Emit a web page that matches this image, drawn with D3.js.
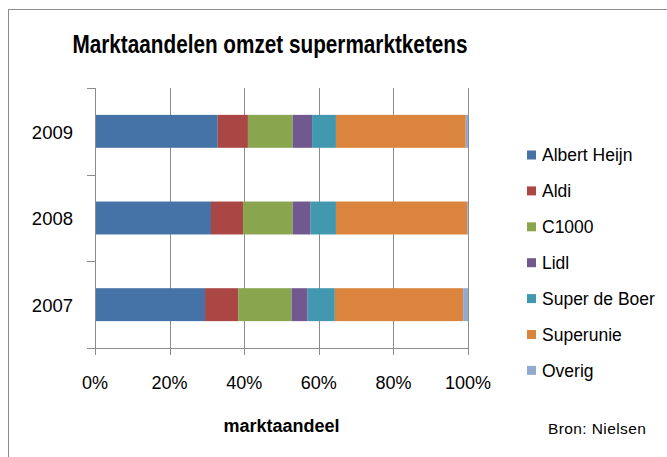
<!DOCTYPE html>
<html>
<head>
<meta charset="utf-8">
<script src="https://cdn.jsdelivr.net/npm/d3@7"></script>
<style>
  html, body { margin: 0; padding: 0; background: #fff; }
  svg { display: block; }
  text { font-family: "Liberation Sans", Arial, sans-serif; fill: #000; }
</style>
</head>
<body>
<svg id="chart" width="667" height="457"></svg>
<script>
// ---- data ----
const years = ["2009", "2008", "2007"];
const chains = ["Albert Heijn", "Aldi", "C1000", "Lidl", "Super de Boer", "Superunie", "Overig"];
const albertHeijn = [32.9, 31.1, 29.5];
const aldi        = [8.1, 8.6, 8.9];
const c1000       = [12.0, 13.3, 14.3];
const lidl        = [5.2, 4.8, 4.3];
const superDeBoer = [6.4, 6.8, 7.3];
const superunie   = [34.8, 35.2, 34.4];
const overig      = [0.6, 0.2, 1.3];
const xTicks = [0, 0.2, 0.4, 0.6, 0.8, 1.0];
const colors = ["#4572A7", "#AA4643", "#89A54E", "#71588F", "#4198AF", "#DB843D", "#93A9CF"];

const seriesValues = [albertHeijn, aldi, c1000, lidl, superDeBoer, superunie, overig];
const table = years.map((yr, i) => {
  const row = { year: yr };
  chains.forEach((c, k) => row[c] = seriesValues[k][i]);
  return row;
});
// normalise to 100% stacked
const stack = d3.stack().keys(chains).offset(d3.stackOffsetExpand)(table);

const svg = d3.select("#chart");

// outer frame
svg.append("rect").attr("x", 8.5).attr("y", 9.5).attr("width", 700).attr("height", 500)
  .attr("fill", "none").attr("stroke", "#8c8c8c").attr("stroke-width", 1);

const pLeft = 95, pRight = 468, pTop = 88, pBottom = 348;
const x = d3.scaleLinear().domain([0, 1]).range([pLeft, pRight]);
const y = d3.scaleBand().domain(years).range([pTop, pBottom]).padding(0);
const barH = y.bandwidth() * 0.38;

// gridlines
svg.append("g").selectAll("line").data(xTicks.slice(1)).join("line")
  .attr("x1", d => Math.round(x(d)) + 0.5).attr("x2", d => Math.round(x(d)) + 0.5)
  .attr("y1", pTop).attr("y2", pBottom)
  .attr("stroke", "#8c8c8c").attr("stroke-width", 1);

// bars
svg.append("g").selectAll("g").data(stack).join("g")
  .attr("fill", (d, i) => colors[i])
  .selectAll("rect").data(d => d).join("rect")
  .attr("x", d => x(d[0]))
  .attr("width", d => Math.max(0, x(d[1]) - x(d[0])))
  .attr("y", d => y(d.data.year) + (y.bandwidth() - barH) / 2)
  .attr("height", barH);

// y axis
const yAxisG = svg.append("g");
yAxisG.append("line").attr("x1", pLeft + 0.5).attr("x2", pLeft + 0.5).attr("y1", pTop).attr("y2", pBottom + 7)
  .attr("stroke", "#8c8c8c");
const yBounds = years.map(d => y(d)).concat([pBottom]);
yAxisG.selectAll("line.t").data(yBounds).join("line").attr("class", "t")
  .attr("x1", pLeft - 8).attr("x2", pLeft).attr("y1", d => Math.round(d) + 0.5).attr("y2", d => Math.round(d) + 0.5)
  .attr("stroke", "#8c8c8c");
yAxisG.selectAll("text").data(years).join("text")
  .attr("x", 73).attr("y", d => y(d) + y.bandwidth() / 2 + 1)
  .attr("dy", "0.35em").attr("text-anchor", "end")
  .style("font-size", "18.5px").text(d => d);

// x axis
const xAxisG = svg.append("g");
xAxisG.append("line").attr("x1", pLeft).attr("x2", pRight + 1).attr("y1", pBottom + 0.5).attr("y2", pBottom + 0.5)
  .attr("stroke", "#8c8c8c");
xAxisG.selectAll("line.t").data(xTicks).join("line").attr("class", "t")
  .attr("x1", d => Math.round(x(d)) + 0.5).attr("x2", d => Math.round(x(d)) + 0.5)
  .attr("y1", pBottom).attr("y2", pBottom + 7)
  .attr("stroke", "#8c8c8c");
xAxisG.selectAll("text").data(xTicks).join("text")
  .attr("x", d => x(d)).attr("y", 389).attr("text-anchor", "middle")
  .style("font-size", "18px").text(d => d3.format(".0%")(d));

// axis title
svg.append("text").attr("x", (pLeft + pRight) / 2).attr("y", 432).attr("text-anchor", "middle")
  .style("font-size", "18px").style("font-weight", "bold").text("marktaandeel");

// chart title
svg.append("text").attr("x", 270).attr("y", 53).attr("text-anchor", "middle")
  .style("font-size", "25px").style("font-weight", "bold")
  .attr("textLength", 395).attr("lengthAdjust", "spacingAndGlyphs")
  .text("Marktaandelen omzet supermarktketens");

// legend
const legend = svg.append("g");
const lg = legend.selectAll("g").data(chains).join("g")
  .attr("transform", (d, i) => `translate(527, ${155 + i * 35.9})`);
lg.append("rect").attr("x", 0).attr("y", -4.5).attr("width", 9).attr("height", 9)
  .attr("fill", (d, i) => colors[i]);
lg.append("text").attr("x", 15).attr("y", 0).attr("dy", "0.35em")
  .style("font-size", "17.5px").text(d => d);

// source
svg.append("text").attr("x", 548).attr("y", 434)
  .style("font-size", "15.5px").style("letter-spacing", "0.4px").text("Bron: Nielsen");
</script>
</body>
</html>
